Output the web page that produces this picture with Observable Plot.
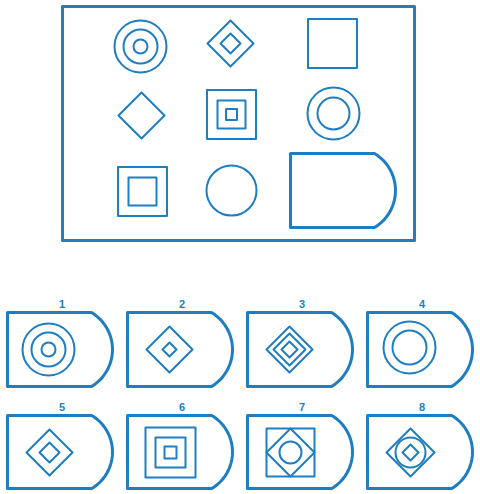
<!DOCTYPE html>
<html>
<head>
<meta charset="utf-8">
<script src="https://cdn.jsdelivr.net/npm/d3@7"></script>
<script src="https://cdn.jsdelivr.net/npm/@observablehq/plot@0.6"></script>
<style>body{margin:0;background:#fff}</style>
</head>
<body>
<div id="chart"></div>
<script>
const blue = "#1f7ec2";

// puzzle frame and option cards: [x0, y0, x1, y1, curveStart]
const frame = [62, 6, 414, 240];
const cards = [
  [7, 312, 112, 386], [127, 312, 232, 386], [247, 312, 352, 386], [367, 312, 472, 386],
  [7, 415, 112, 488], [127, 415, 232, 488], [247, 415, 352, 488], [367, 415, 472, 488]
];
const cardLabels = ["1", "2", "3", "4", "5", "6", "7", "8"];
const answerCard = [290, 153, 395, 227];

// circles: [cx, cy, r]
const circles = [
  [140, 46, 26], [140, 46, 17], [140, 46, 7],
  [333, 113, 26], [333, 113, 16],
  [231, 190, 25],
  [48, 349, 26], [48, 349, 17], [48, 349, 7],
  [409, 347, 26], [409, 347, 17],
  [290, 452, 11],
  [410, 452, 15]
];
// squares: [cx, cy, half]
const squares = [
  [332, 43, 24.5],
  [231, 114, 24.5], [231, 114, 14], [231, 114, 5.5],
  [142, 191, 24.5], [142, 191, 14],
  [170, 452, 25], [170, 452, 15], [170, 452, 6],
  [290, 452, 24]
];
// diamonds: [cx, cy, half]
const diamonds = [
  [230, 43, 23], [230, 43, 10],
  [141, 115, 23],
  [169, 349, 23], [169, 349, 7],
  [289, 349, 23], [289, 349, 16], [289, 349, 8],
  [49, 452, 23], [49, 452, 10],
  [290, 452, 24],
  [410, 452, 24], [410, 452, 8]
];

function tab([x0, y0, x1, y1], id) {
  const half = (y1 - y0) / 2, ym = (y0 + y1) / 2, h = 21 * (y1 - y0) / 74;
  const xc = x1 - h, R = (h * h + half * half) / (2 * h), cx = x1 - R;
  const a = Math.asin(half / R);
  const pts = [{x: xc, y: y0}, {x: x0, y: y0}, {x: x0, y: y1}, {x: xc, y: y1}];
  for (let i = 1; i < 24; i++) {
    const t = a - 2 * a * i / 24;
    pts.push({x: cx + R * Math.cos(t), y: ym + R * Math.sin(t)});
  }
  pts.push({x: xc, y: y0});
  return pts.map(p => ({...p, id}));
}
const poly = (pts, id) => pts.concat([pts[0]]).map(([x, y]) => ({x, y, id}));

const thick = [
  ...poly([[frame[0], frame[1]], [frame[2], frame[1]], [frame[2], frame[3]], [frame[0], frame[3]]], "frame"),
  ...tab(answerCard, "ans"),
  ...cards.flatMap((c, i) => tab(c, "c" + i))
];
const thin = [
  ...squares.flatMap(([cx, cy, h], i) => poly([[cx - h, cy - h], [cx + h, cy - h], [cx + h, cy + h], [cx - h, cy + h]], "s" + i)),
  ...diamonds.flatMap(([cx, cy, h], i) => poly([[cx, cy - h], [cx + h, cy], [cx, cy + h], [cx - h, cy]], "d" + i))
];
const labels = cards.map((c, i) => ({x: (c[0] + c[2]) / 2 + 2, y: c[1] - 8, t: cardLabels[i]}));

const chart = Plot.plot({
  width: 480, height: 494, margin: 0,
  x: {domain: [0, 480], range: [0, 480], axis: null},
  y: {domain: [0, 494], range: [0, 494], axis: null},
  r: {type: "identity"},
  marks: [
    Plot.line(thick, {x: "x", y: "y", z: "id", stroke: blue, strokeWidth: 3, curve: "linear"}),
    Plot.line(thin, {x: "x", y: "y", z: "id", stroke: blue, strokeWidth: 2, curve: "linear"}),
    Plot.dot(circles, {x: d => d[0], y: d => d[1], r: d => d[2], stroke: blue, strokeWidth: 2, fill: "none"}),
    Plot.text(labels, {x: "x", y: "y", text: "t", fill: blue, fontSize: 11, fontWeight: "bold", fontFamily: "Liberation Sans"})
  ]
});
d3.select("#chart").append(() => chart);
</script>
</body>
</html>
